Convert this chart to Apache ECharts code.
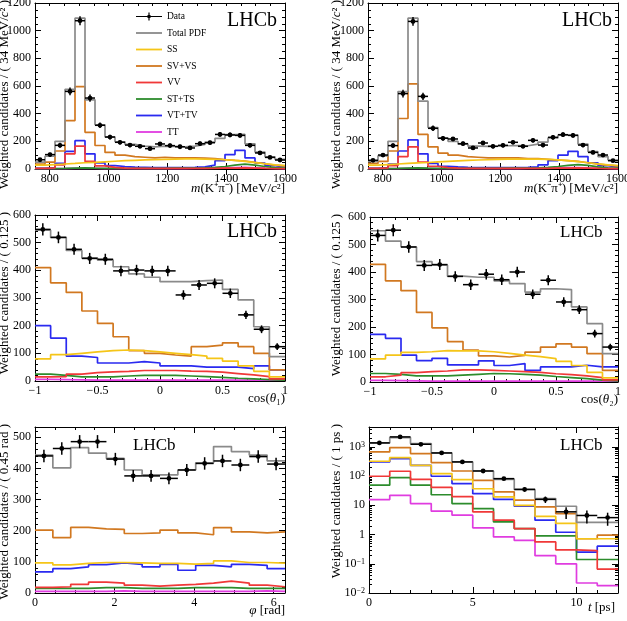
<!DOCTYPE html>
<html><head><meta charset="utf-8">
<script src="https://cdn.jsdelivr.net/npm/echarts@6/dist/echarts.min.js"></script>
<style>html,body{margin:0;padding:0;background:#fff}#c{width:627px;height:621px}</style>
</head><body><div id="c"></div>
<script>
// ---------------- DATA ----------------
// Panel 1: m(K+ pi-) , 25 bins of 34 MeV from 750
const m1Data  = [67,104,171,561,1072,513,316,231,193,173,164,147,181,169,161,152,183,190,250,246,243,171,116,84,65];
const m1Err   = [12,14,18,28,32,26,20,17,15,15,14,14,15,15,14,14,15,15,17,17,17,15,13,11,10];
const m1Total = [50,92,200,575,1090,500,320,232,197,178,166,160,165,163,160,165,178,195,222,248,250,182,122,88,70];
const m1SS    = [28,32,36,40,45,48,52,56,60,63,66,68,70,72,73,73,72,70,67,62,55,46,38,30,24];
const m1SV    = [35,50,130,350,595,265,170,120,100,90,85,80,85,80,80,80,78,75,68,62,58,48,38,28,22];
const m1VV    = [4,8,30,110,165,55,22,12,7,5,4,4,4,4,4,4,4,5,6,7,8,6,4,3,2];
const m1ST    = [2,3,4,6,8,6,5,5,5,5,5,5,5,6,6,7,9,12,18,28,35,28,18,10,6];
const m1VT    = [5,10,40,128,205,110,45,25,18,14,12,10,10,10,10,12,15,28,60,104,135,80,43,25,15];
const m1TT    = [2,2,3,4,5,4,3,3,3,3,3,3,3,3,3,4,5,6,8,11,12,9,6,4,3];

// Panel 2: m(K- pi+)
const m2Data  = [63,101,169,545,1067,525,294,222,217,183,152,188,164,171,193,164,207,173,229,248,243,173,120,101,60];
const m2Err   = [12,14,18,28,32,26,20,17,15,15,14,14,15,15,14,14,15,15,17,17,17,15,13,11,10];
const m2Total = [55,95,200,560,1090,490,300,225,200,180,165,163,165,168,170,168,180,195,225,245,245,180,125,90,65];
const m2SS    = [28,32,36,40,44,47,51,55,59,62,65,67,69,71,72,72,71,69,66,61,54,45,37,30,24];
const m2SV    = [40,55,130,365,615,250,160,115,100,90,85,80,80,80,80,75,75,70,65,60,55,45,35,28,22];
const m2VV    = [4,8,25,90,160,50,20,10,6,5,4,4,4,4,4,4,4,5,6,7,8,6,4,3,2];
const m2ST    = [2,3,4,6,8,6,5,5,5,5,5,5,5,6,6,7,9,12,18,26,32,26,16,9,6];
const m2VT    = [5,10,35,130,210,110,40,20,15,12,10,10,10,10,10,12,15,30,60,100,128,90,45,25,15];
const m2TT    = [2,2,3,4,5,4,3,3,3,3,3,3,3,3,3,4,5,6,8,10,11,8,6,4,3];

// Panel 3: cos(theta1), 16 bins of 0.125
const c1Data  = [548,519,476,443,440,398,401,398,398,311,347,353,317,239,187,124];
const c1Err   = [22,21,20,20,20,19,19,19,19,17,18,18,17,15,14,12];
const c1Total = [545,519,472,445,437,413,387,375,359,359,363,365,331,293,196,88];
const c1SS    = [80,95,100,105,110,112,110,105,100,95,90,82,72,55,35,15];
const c1SV    = [410,355,320,253,208,160,110,100,94,90,124,130,138,124,100,40];
const c1VV    = [15,16,25,30,33,35,38,38,38,36,35,32,27,22,16,8];
const c1ST    = [25,20,15,15,15,18,20,20,20,18,16,13,10,8,5,3];
const c1VT    = [200,155,90,85,65,65,70,65,55,55,50,50,50,45,55,40];
const c1TT    = [6,5,4,3,3,3,3,3,3,3,3,3,3,3,3,3];

// Panel 4: cos(theta2)
const c2Data  = [533,552,491,424,427,384,354,392,372,400,319,370,291,263,176,127];
const c2Err   = [22,22,21,20,20,19,19,19,19,19,17,18,17,16,14,12];
const c2Total = [550,512,491,438,425,385,381,381,368,358,327,339,336,273,212,103];
const c2SS    = [84,98,108,110,114,113,113,110,104,98,92,85,75,60,35,15];
const c2SV    = [428,368,332,253,197,147,116,95,91,97,109,127,139,127,103,42];
const c2VV    = [19,25,34,38,40,44,44,42,40,38,35,30,27,22,16,8];
const c2ST    = [31,28,22,22,22,25,28,31,30,28,25,20,16,12,7,4];
const c2VT    = [173,159,98,78,86,62,62,77,60,67,42,55,55,61,55,55];
const c2TT    = [6,5,4,3,3,3,3,3,3,3,3,3,3,3,3,3];

// Panel 5: phi, 14 bins over [0, 2pi]
const pData  = [440,464,486,486,430,376,376,368,395,416,424,411,438,414];
const pErr   = [20,20,21,21,20,19,19,19,19,20,20,20,20,20];
const pTotal = [443,402,467,449,432,395,379,379,395,418,470,454,443,424];
const pSS    = [97,90,95,98,98,97,95,95,93,95,103,98,98,96];
const pSV    = [202,178,211,206,204,191,193,202,193,187,210,196,193,196];
const pVV    = [18,20,28,35,32,25,22,25,28,32,38,32,25,20];
const pST    = [15,15,15,17,17,15,15,15,17,17,17,15,15,15];
const pVT    = [68,78,84,91,97,92,84,92,73,89,84,92,89,78];
const pTT    = [5,5,5,5,7,5,5,5,5,5,5,5,7,5];

// Panel 6: t [ps], 12 bins of 1 ps
const tData  = [1370,2200,1230,620,306,150,82,35,16,6,4.5,3.8];
const tErr   = [40,50,37,27,19,13,9,6,4,2.6,2.1,1.8];
const tTotal = [1370,2090,1300,620,305,150,78,35,17,9.3,2.6,2.6];
const tSS    = [323,430,235,122,76,37,19.5,10,4.2,2.4,0.72,0.72];
const tSV    = [675,950,590,290,150,72,29,15,8.8,5.2,0.72,0.95];
const tVV    = [99,147,78,41,20,6,3.1,1.6,0.56,0.3,0.28,0.066];
const tST    = [49,89,49,23,11.5,7.7,2.7,1.6,0.9,0.9,0.14,0.14];
const tVT    = [306,400,235,99,55,25,16,9.3,3.1,1.2,0.25,0.4];
const tTT    = [15.7,22,11.5,6.3,4.6,1.7,0.83,0.63,0.19,0.1,0.022,0.018];

const massTicks = [800,1000,1200,1400,1600];
const legendNames = ['Data','Total PDF','SS','SV+VS','VV','ST+TS','VT+TV','TT'];

// ---------------- STYLE ----------------
const FONT = '"Liberation Serif", "Times New Roman", serif';
const COL = {'Total PDF':'#8a8a8a', 'SS':'#f5c518', 'SV+VS':'#d17820', 'VV':'#f03838', 'ST+TS':'#2c8c2c', 'VT+TV':'#2a2af0', 'TT':'#e03ce0'};
const TITLE_FS = 13;

const panels = [
  {grid:{left:35,top:3,width:250,height:166}, xmin:750, binW:34, n:25,
   x:{min:750,max:1600,interval:50,custom:massTicks}, y:{min:0,max:1200,interval:200,minor:4},
   data:m1Data, err:m1Err, comp:[m1Total,m1SS,m1SV,m1VV,m1ST,m1VT,m1TT],
   xname:'{i|m}{n|(K⁺π⁻) [MeV/}{i|c}{n|²]}', xnamePos:[285,189],
   yname:'Weighted candidates / ( 34 MeV/{i|c}² )', ynamePos:[5,0],
   lhcb:[227,21,20]},
  {grid:{left:368,top:3,width:250,height:166}, xmin:750, binW:34, n:25,
   x:{min:750,max:1600,interval:50,custom:massTicks}, y:{min:0,max:1200,interval:200,minor:4},
   data:m2Data, err:m2Err, comp:[m2Total,m2SS,m2SV,m2VV,m2ST,m2VT,m2TT],
   xname:'{i|m}{n|(K⁻π⁺) [MeV/}{i|c}{n|²]}', xnamePos:[618,189],
   yname:'Weighted candidates / ( 34 MeV/{i|c}² )', ynamePos:[337,0],
   lhcb:[562,21,20]},
  {grid:{left:35,top:215,width:250,height:166}, xmin:-1, binW:0.125, n:16,
   x:{min:-1,max:1,interval:0.5,minor:5}, y:{min:0,max:600,interval:100,minor:5},
   data:c1Data, err:c1Err, comp:[c1Total,c1SS,c1SV,c1VV,c1ST,c1VT,c1TT],
   xname:'{n|cos(}{i|θ}{n|₁)}', xnamePos:[285,399],
   yname:'Weighted candidates / ( 0.125 )', ynamePos:[5,212],
   lhcb:[227,232,20]},
  {grid:{left:370,top:217,width:248,height:165}, xmin:-1, binW:0.125, n:16,
   x:{min:-1,max:1,interval:0.5,minor:5}, y:{min:0,max:600,interval:100,minor:5},
   data:c2Data, err:c2Err, comp:[c2Total,c2SS,c2SV,c2VV,c2ST,c2VT,c2TT],
   xname:'{n|cos(}{i|θ}{n|₂)}', xnamePos:[618,400],
   yname:'Weighted candidates / ( 0.125 )', ynamePos:[337,214],
   lhcb:[560,233,17]},
  {grid:{left:35,top:427,width:250,height:166}, xmin:0, binW:2*Math.PI/14, n:14,
   x:{min:0,max:2*Math.PI,interval:2,minor:4}, y:{min:0,max:533,interval:100,minor:5},
   data:pData, err:pErr, comp:[pTotal,pSS,pSV,pVV,pST,pVT,pTT],
   xname:'{i|φ}{n| [rad]}', xnamePos:[285,611],
   yname:'Weighted candidates / ( 0.45 rad )', ynamePos:[5,424],
   lhcb:[133,446,17]},
  {grid:{left:369,top:427,width:249,height:166}, xmin:0, binW:1, n:12,
   x:{min:0,max:12,interval:5,minor:5}, y:{log:true,min:0.01,max:4800},
   data:tData, err:tErr, comp:[tTotal,tSS,tSV,tVV,tST,tVT,tTT],
   xname:'{i|t}{n| [ps]}', xnamePos:[615,608],
   yname:'Weighted candidates / ( 1 ps )', ynamePos:[337,424],
   lhcb:[560,446,17]}
];

const compNames = ['Total PDF','SS','SV+VS','VV','ST+TS','VT+TV','TT'];

// ---------------- BUILD ----------------
const grids=[], xAxes=[], yAxes=[], series=[], graphics=[];
const lineSt = {color:'#000', width:1};
const lblSt = {show:true, color:'#000', fontFamily:FONT, fontSize:12};
function minusFmt(v){ return String(+(+v).toFixed(6)).replace('-', '−'); }

function valueAxis(gi, pos, a, withLabels){
  const ax = {type:'value', gridIndex:gi, position:pos, min:a.min, max:a.max, interval:a.interval,
    axisLine:{show:true, onZero:false, lineStyle:lineSt}, splitLine:{show:false},
    axisTick:{show:true, inside:true, length:6, lineStyle:lineSt},
    minorTick:{show:!!a.minor, splitNumber:a.minor||5, length:3, lineStyle:lineSt},
    axisLabel: withLabels ? Object.assign({}, lblSt, {margin:4, formatter:minusFmt, showMaxLabel: a.showMax!==false}) : {show:false}
  };
  return ax;
}

panels.forEach((p, gi) => {
  grids.push(Object.assign({containLabel:false, outerBoundsMode:'none', show:false}, p.grid));
  let xMain;
  // X axes
  if (p.x.custom) {
    xMain = xAxes.length;
    const a = {min:p.x.min, max:p.x.max, interval:p.x.interval};
    ['bottom','top'].forEach(pos => {
      const ax = valueAxis(gi, pos, a, false);
      ax.axisTick.length = 3;
      ax.minorTick.show = false;
      if (pos==='bottom') ax.axisLabel = Object.assign({}, lblSt, {margin:4, customValues:p.x.custom, formatter:minusFmt});
      xAxes.push(ax);
      const maj = valueAxis(gi, pos, a, false);
      maj.axisLine = {show:false};
      maj.minorTick = {show:false};
      maj.axisTick = {show:true, inside:true, length:6, lineStyle:lineSt, customValues:p.x.custom};
      xAxes.push(maj);
    });
  } else {
    xMain = xAxes.length;
    const showMax = (p.x.max % p.x.interval) < 1e-9;
    const a = Object.assign({}, p.x, {showMax});
    xAxes.push(valueAxis(gi, 'bottom', a, true));
    xAxes.push(valueAxis(gi, 'top', a, false));
  }
  // Y axes
  const yMain = yAxes.length;
  if (p.y.log) {
    const mk = (pos, lab) => ({type:'log', logBase:10, gridIndex:gi, position:pos, min:p.y.min, max:p.y.max,
      axisLine:{show:true, onZero:false, lineStyle:lineSt}, splitLine:{show:false},
      axisTick:{show:true, inside:true, length:6, lineStyle:lineSt},
      minorTick:{show:true, splitNumber:9, length:3, lineStyle:lineSt},
      axisLabel: lab ? Object.assign({}, lblSt, {margin:4, showMaxLabel:false,
        formatter: v => { const e = Math.round(Math.log10(v)); if (e===0) return '1'; if (e===1) return '10'; return '10{s|' + (e<0?'−':'') + Math.abs(e) + '}'; },
        rich:{s:{fontSize:8, fontFamily:FONT, color:'#000', verticalAlign:'top', lineHeight:8}}}) : {show:false}});
    yAxes.push(mk('left', true));
    yAxes.push(mk('right', false));
  } else {
    const showMax = (p.y.max % p.y.interval) < 1e-9;
    const a = Object.assign({}, p.y, {showMax});
    yAxes.push(valueAxis(gi, 'left', a, true));
    yAxes.push(valueAxis(gi, 'right', a, false));
  }
  // histogram component series (step lines built from bin edges)
  const edges = [];
  for (let i = 0; i <= p.n; i++) edges.push(p.xmin + i * p.binW);
  p.comp.slice().reverse().forEach((vals, k) => {
    const idx = p.comp.length - 1 - k;
    const name = compNames[idx];
    const pts = vals.map((v, i) => [edges[i], v]);
    pts.push([edges[p.n], vals[vals.length-1]]);
    series.push({type:'line', name, step:'end', xAxisIndex:xMain, yAxisIndex:yMain, data:pts,
      showSymbol:false, symbol:'none', clip:true, z: idx===0 ? 3 : 2,
      lineStyle:{color:COL[name], width: 1.7}, itemStyle:{color:COL[name]}, emphasis:{disabled:true}, silent:true});
  });
  // data points with error bars
  const dpts = p.data.map((v, i) => [edges[i] + p.binW/2, v, p.err[i], p.binW/2]);
  series.push({type:'custom', name:'Data', xAxisIndex:xMain, yAxisIndex:yMain, data:dpts, clip:true, z:5,
    encode:{x:0, y:1}, itemStyle:{color:'#000'}, silent:true,
    renderItem:(params, api) => {
      const x = api.value(0), y = api.value(1), e = api.value(2), hw = api.value(3);
      const lo = Math.max(y - e, p.y.log ? p.y.min : 0);
      const pL = api.coord([x - hw, y]), pR = api.coord([x + hw, y]);
      const pT = api.coord([x, y + e]), pB = api.coord([x, lo]);
      const c = api.coord([x, y]);
      return {type:'group', children:[
        {type:'line', shape:{x1:pL[0], y1:pL[1], x2:pR[0], y2:pR[1]}, style:{stroke:'#000', lineWidth:1.5}},
        {type:'line', shape:{x1:pT[0], y1:pT[1], x2:pB[0], y2:pB[1]}, style:{stroke:'#000', lineWidth:1.5}},
        {type:'circle', shape:{cx:c[0], cy:c[1], r:2.4}, style:{fill:'#000'}}
      ]};
    }});
  // texts
  graphics.push({type:'text', x:p.lhcb[0], y:p.lhcb[1], style:{text:'LHCb', fontFamily:FONT, fontSize:p.lhcb[2], fill:'#000', verticalAlign:'middle', align:'left'}, silent:true});
  graphics.push({type:'text', x:p.xnamePos[0], y:p.xnamePos[1], style:{text:p.xname, align:'right', verticalAlign:'middle', fill:'#000',
    fontFamily:FONT, fontSize:TITLE_FS, rich:{n:{fontFamily:FONT, fontSize:TITLE_FS, fill:'#000'}, i:{fontFamily:FONT, fontSize:TITLE_FS, fontStyle:'italic', fill:'#000'}}}, silent:true});
  graphics.push({type:'text', x:p.ynamePos[0], y:p.ynamePos[1], rotation:Math.PI/2, style:{text:p.yname, align:'right', verticalAlign:'middle', fill:'#000',
    fontFamily:FONT, fontSize:TITLE_FS, rich:{i:{fontFamily:FONT, fontSize:TITLE_FS, fontStyle:'italic', fill:'#000'}}}, silent:true});
});

const dataIcon = 'path://M0,4.5H26V5.5H0Z M12.4,1H13.6V9H12.4Z M11.5,3.5H14.5V6.5H11.5Z';
const lineIcon = 'path://M0,0H26V1.8H0Z';
const option = {
  animation:false,
  backgroundColor:'#fff',
  grid:grids, xAxis:xAxes, yAxis:yAxes, series:series, graphic:graphics,
  legend:{show:true, orient:'vertical', left:136, top:11.5, padding:0, itemWidth:26, itemHeight:10, itemGap:6.5,
    selectedMode:false, symbolKeepAspect:true, textStyle:{fontFamily:FONT, fontSize:9.5, color:'#000', lineHeight:10},
    data: legendNames.map(n => n==='Data' ? {name:n, icon:dataIcon, itemStyle:{color:'#000'}}
                                          : {name:n, icon:lineIcon, itemStyle:{color:COL[n]}})}
};
const chart = echarts.init(document.getElementById('c'), null, {renderer:'canvas'});
chart.setOption(option);
</script></body></html>
